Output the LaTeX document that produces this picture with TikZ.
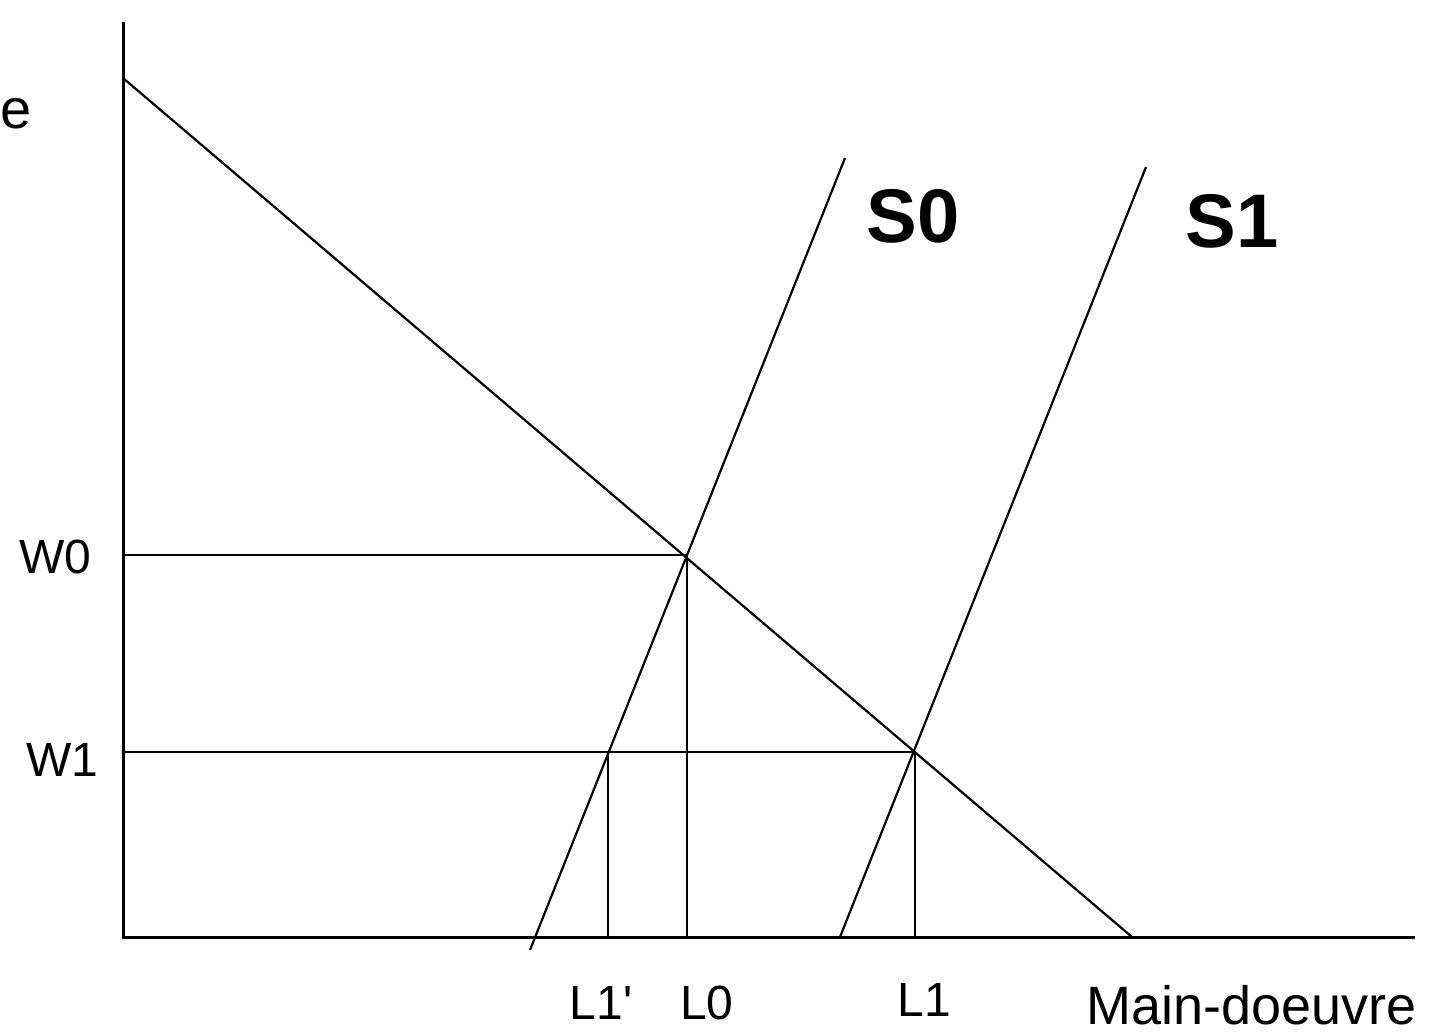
\documentclass[tikz,border=0pt]{standalone}
\usepackage{fontspec}
\setmainfont{Liberation Sans}
\newfontfamily\lblfont{Liberation Sans}
\begin{document}
\begin{tikzpicture}[x=0.5pt,y=-0.5pt,
  axisline/.style={line width=1.5pt},
  curve/.style={line width=1.1pt},
  guide/.style={line width=1.2pt},
  lbl/.style={inner sep=0pt,font=\lblfont\fontsize{24}{28}\selectfont},
  curvelbl/.style={inner sep=0pt,font=\lblfont\fontsize{38}{44}\selectfont\bfseries}]
\useasboundingbox (0,0) rectangle (1447,1035);
% axes
\coordinate (O) at (123,937);
\coordinate (ytop) at (123,22);
\coordinate (xend) at (1415,937);
\draw[axisline] (ytop) -- (O) -- (xend);
% key points
\coordinate (Dtop) at (123,78);
\coordinate (Dbot) at (1132,937);
\coordinate (S0bot) at (530,950);
\coordinate (S0top) at (845,158);
\coordinate (S1bot) at (840,937);
\coordinate (S1top) at (1146,167);
\coordinate (E0) at (687,555);
\coordinate (E1) at (915,752);
\coordinate (E1p) at (608,752);
\coordinate (yW0) at (123,555);
\coordinate (yW1) at (123,752);
\coordinate (xL1p) at (608,937);
\coordinate (xL0) at (687,937);
\coordinate (xL1) at (915,937);
% curves
\draw[curve] (Dtop) -- (Dbot);
\draw[curve] (S0bot) -- (S0top);
\draw[curve] (S1bot) -- (S1top);
% guides
\draw[guide] (yW0) -- (E0) -- (xL0);
\draw[guide] (yW1) -- (E1) -- (xL1);
\draw[guide] (E1p) -- (xL1p);
% labels
\node[lbl] (w0) at (55,557) {W0};
\node[lbl] (w1) at (62,760) {W1};
\node[lbl] (l1p) at (601,1003) {L1'};
\node[lbl] (l0) at (707,1003) {L0};
\node[lbl] (l1) at (924,1000) {L1};
\node[lbl,anchor=base west,font=\lblfont\fontsize{27}{30}\selectfont] (mo) at (1086,1024) {Main-doeuvre};
\node[curvelbl] (s0) at (913,216) {S0};
\node[curvelbl] (s1) at (1232,221) {S1};
\node[lbl,anchor=west,font=\lblfont\fontsize{28}{32}\selectfont] (ylab) at (0,114) {e};
\end{tikzpicture}
\end{document}
